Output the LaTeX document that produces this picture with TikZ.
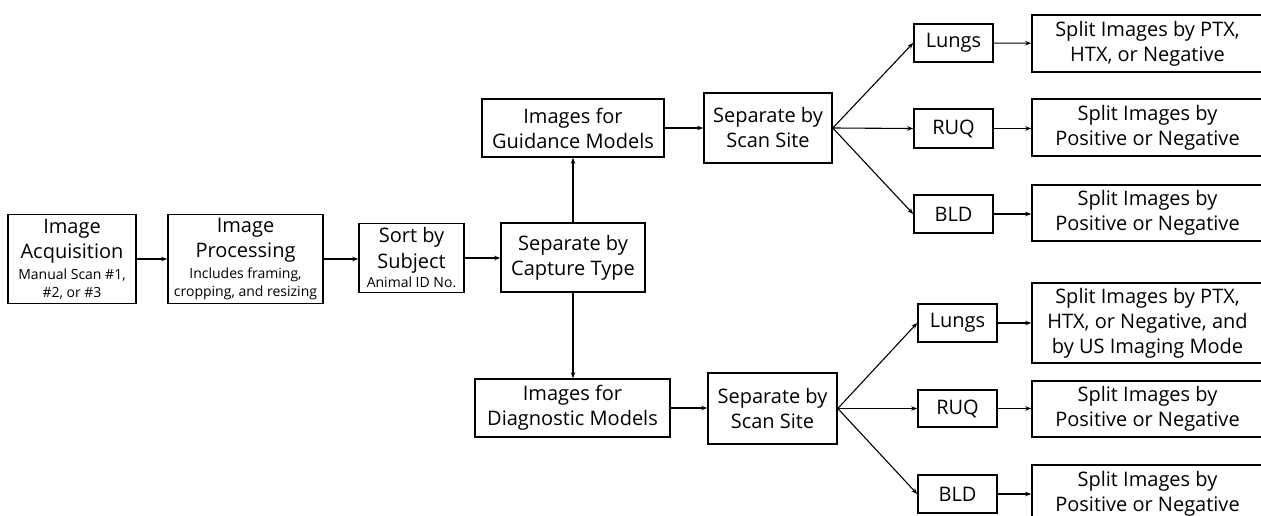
\documentclass[tikz,border=0pt]{standalone}
\usepackage{fontspec}
\setmainfont{Open Sans}
\usetikzlibrary{arrows.meta}
\newcommand{\smalltxt}{\fontsize{14}{17}\selectfont}
\begin{document}
\begin{tikzpicture}[x=1pt,y=-1pt,
  box/.style={draw, line width=1.6pt, inner sep=0pt, align=center, font=\fontsize{20}{25}\selectfont},
  arr/.style={line width=1.1pt, -{Stealth[length=6pt,width=4.5pt]}}]
\useasboundingbox (0,0) rectangle (1261,516);
\node[box, minimum width=128pt, minimum height=89pt] (acq) at (72,259) {Image\\Acquisition\\[-4pt]{\smalltxt Manual Scan \#1,}\\[-7pt]{\smalltxt \#2, or \#3}};
\node[box, minimum width=155pt, minimum height=89pt] (proc) at (245.5,259) {Image\\Processing\\[-4pt]{\smalltxt Includes framing,}\\[-7pt]{\smalltxt cropping, and resizing}};
\node[box, minimum width=105pt, minimum height=69pt] (sort) at (411.5,258) {Sort by\\Subject\\[-5pt]{\smalltxt Animal ID No.}};
\node[box, minimum width=144pt, minimum height=69pt] (cap) at (573,257.5) {Separate by\\Capture Type};
\node[box, minimum width=182pt, minimum height=58pt] (guid) at (573,128) {Images for\\Guidance Models};
\node[box, minimum width=128pt, minimum height=70pt] (site1) at (768,128) {Separate by\\Scan Site};
\node[box, minimum width=79pt, minimum height=38pt] (lungs1) at (953.5,43) {Lungs};
\node[box, minimum width=79pt, minimum height=39pt] (ruq1) at (953.5,128.5) {RUQ};
\node[box, minimum width=79pt, minimum height=38pt] (bld1) at (953.5,214) {BLD};
\node[box, minimum width=231pt, minimum height=57pt] (s1) at (1147.5,43.5) {Split Images by PTX,\\HTX, or Negative};
\node[box, minimum width=231pt, minimum height=57pt] (s2) at (1147.5,127.5) {Split Images by\\Positive or Negative};
\node[box, minimum width=231pt, minimum height=56pt] (s3) at (1147.5,213) {Split Images by\\Positive or Negative};
\node[box, minimum width=195pt, minimum height=58pt] (diag) at (572.5,408) {Images for\\Diagnostic Models};
\node[box, minimum width=129pt, minimum height=71pt] (site2) at (772.5,408.5) {Separate by\\Scan Site};
\node[box, minimum width=79pt, minimum height=38pt] (lungs2) at (957.5,323) {Lungs};
\node[box, minimum width=79pt, minimum height=37pt] (ruq2) at (957.5,408.5) {RUQ};
\node[box, minimum width=79pt, minimum height=38pt] (bld2) at (957.5,494) {BLD};
\node[box, minimum width=231pt, minimum height=80pt] (t1) at (1147.5,323) {Split Images by PTX,\\HTX, or Negative, and\\by US Imaging Mode};
\node[box, minimum width=231pt, minimum height=56pt] (t2) at (1147.5,409) {Split Images by\\Positive or Negative};
\node[box, minimum width=231pt, minimum height=58pt] (t3) at (1147.5,494) {Split Images by\\Positive or Negative};
\draw[arr] (acq) -- (proc);
\draw[arr] (proc) -- (proc -| sort.west);
\draw[arr] (sort) -- (sort -| cap.west);
\draw[arr] (cap.north) -- (cap.north |- guid.south);
\draw[arr] (cap.south) -- (cap.south |- diag.north);
\draw[arr] (guid) -- (guid -| site1.west);
\draw[arr] (diag) -- (diag -| site2.west);
\draw[arr] (site1.east) -- (lungs1.west);
\draw[arr] (site1.east) -- (ruq1.west);
\draw[arr] (site1.east) -- (bld1.west);
\draw[arr] (site2.east) -- (lungs2.west);
\draw[arr] (site2.east) -- (ruq2.west);
\draw[arr] (site2.east) -- (bld2.west);
\draw[arr] (lungs1) -- (s1);
\draw[arr] (ruq1) -- (ruq1 -| s2.west);
\draw[arr] (bld1) -- (bld1 -| s3.west);
\draw[arr] (lungs2) -- (lungs2 -| t1.west);
\draw[arr] (ruq2) -- (ruq2 -| t2.west);
\draw[arr] (bld2) -- (bld2 -| t3.west);
\end{tikzpicture}
\end{document}
